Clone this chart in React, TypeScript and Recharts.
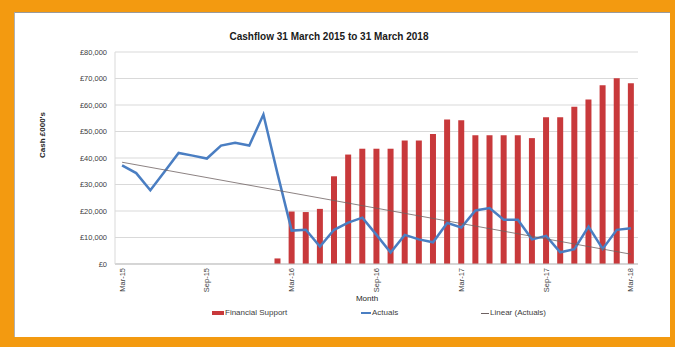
import React from "react";
import { Bar, CartesianGrid, ComposedChart, Line, XAxis, YAxis } from "recharts";

const months = [
  "Mar-15", "Apr-15", "May-15", "Jun-15", "Jul-15", "Aug-15", "Sep-15", "Oct-15", "Nov-15", "Dec-15",
  "Jan-16", "Feb-16", "Mar-16", "Apr-16", "May-16", "Jun-16", "Jul-16", "Aug-16", "Sep-16", "Oct-16",
  "Nov-16", "Dec-16", "Jan-17", "Feb-17", "Mar-17", "Apr-17", "May-17", "Jun-17", "Jul-17", "Aug-17",
  "Sep-17", "Oct-17", "Nov-17", "Dec-17", "Jan-18", "Feb-18", "Mar-18",
];

const financialSupport = [
  null, null, null, null, null, null, null, null, null, null,
  null, 2100, 19800, 19600, 20800, 33100, 41300, 43500, 43500, 43500,
  46600, 46600, 49100, 54500, 54200, 48600, 48600, 48600, 48600, 47500,
  55400, 55400, 59300, 62100, 67500, 70100, 68200,
];

const actuals = [
  37200, 34300, 27800, 34800, 41900, 40900, 39800, 44700, 45700, 44700,
  56400, 34000, 12600, 12900, 6600, 12900, 15600, 17500, 11000, 4300,
  11000, 9300, 8200, 15500, 13800, 20200, 21100, 16700, 16700, 9300,
  10600, 4400, 5600, 14100, 5700, 12900, 13500,
];

// trendline end points
const linearStart = 38400;
const linearEnd = 3700;

const yTicks = [0, 10000, 20000, 30000, 40000, 50000, 60000, 70000, 80000];

const data = months.map((m, i) => ({
  month: m,
  support: financialSupport[i],
  actuals: actuals[i],
  linear: i === 0 ? linearStart : i === months.length - 1 ? linearEnd : null,
}));

const FONT = '"Liberation Sans", Arial, sans-serif';
const RED = "#C8393B";
const BLUE = "#4A7EC2";
const TREND = "#6e6262";

const fmtMoney = (v: number) => "£" + v.toLocaleString("en-GB");

const MonthTick = ({ x, y, payload }: any) => (
  <text
    x={x}
    y={y}
    dy={2.5}
    transform={`rotate(-90 ${x} ${y})`}
    textAnchor="end"
    fontSize={7.5}
    fontFamily={FONT}
    fill="#404040"
  >
    {payload.value}
  </text>
);

export default function App() {
  return (
    <div style={{ position: "fixed", top: 0, left: 0, width: 675, height: 347, background: "#F39A10", fontFamily: FONT }}>
      <div
        style={{
          position: "absolute",
          left: 14,
          top: 12,
          width: 656,
          height: 325,
          background: "#fff",
          borderTop: "1px solid #9a9a9a",
          borderLeft: "1px solid #b0b0b0",
          boxSizing: "border-box",
        }}
      />
      <div
        style={{
          position: "absolute",
          left: 0,
          top: 31,
          width: 658,
          textAlign: "center",
          fontSize: 10,
          fontWeight: "bold",
          color: "#1a1a1a",
        }}
      >
        Cashflow 31 March 2015 to 31 March 2018
      </div>
      <div
        style={{
          position: "absolute",
          left: 42,
          top: 135,
          transform: "translate(-50%, -50%) rotate(-90deg)",
          fontSize: 8,
          fontWeight: "bold",
          color: "#262626",
          whiteSpace: "nowrap",
        }}
      >
        Cash £000's
      </div>
      <div
        style={{
          position: "absolute",
          left: 367,
          top: 298,
          transform: "translate(-50%, -50%)",
          fontSize: 8,
          color: "#262626",
        }}
      >
        Month
      </div>

      <div style={{ position: "absolute", left: 0, top: 0 }}>
        <ComposedChart width={675} height={347} data={data} margin={{ top: 52, right: 37, bottom: 0, left: 0 }}>
          <CartesianGrid vertical={false} stroke="#d9d9d9" />
          <XAxis
            dataKey="month"
            interval={5}
            height={83}
            tickLine={false}
            tickSize={0}
            tickMargin={4}
            axisLine={{ stroke: "#bfbfbf" }}
            tick={<MonthTick />}
          />
          <YAxis
            width={115}
            domain={[0, 80000]}
            ticks={yTicks}
            tickFormatter={fmtMoney}
            tickLine={false}
            tickSize={0}
            tickMargin={8}
            axisLine={{ stroke: "#d9d9d9" }}
            tick={{ fontSize: 7.5, fill: "#404040", fontFamily: FONT }}
          />
          <Bar dataKey="support" name="Financial Support" fill={RED} barSize={6} isAnimationActive={false} />
          <Line
            dataKey="actuals"
            name="Actuals"
            type="linear"
            stroke={BLUE}
            strokeWidth={2.5}
            dot={false}
            isAnimationActive={false}
          />
          <Line
            dataKey="linear"
            name="Linear (Actuals)"
            type="linear"
            stroke={TREND}
            strokeWidth={0.8}
            dot={false}
            connectNulls
            isAnimationActive={false}
          />
        </ComposedChart>
      </div>

      {/* legend */}
      <div style={{ position: "absolute", left: 212, top: 311, width: 12, height: 4, background: RED }} />
      <div style={{ position: "absolute", left: 225, top: 308, fontSize: 8, color: "#404040" }}>Financial Support</div>
      <div style={{ position: "absolute", left: 361, top: 312, width: 10, height: 2, background: BLUE }} />
      <div style={{ position: "absolute", left: 372, top: 308, fontSize: 8, color: "#404040" }}>Actuals</div>
      <div style={{ position: "absolute", left: 481, top: 313, width: 8, height: 1, background: TREND }} />
      <div style={{ position: "absolute", left: 490, top: 308, fontSize: 8, color: "#404040" }}>Linear (Actuals)</div>
    </div>
  );
}
